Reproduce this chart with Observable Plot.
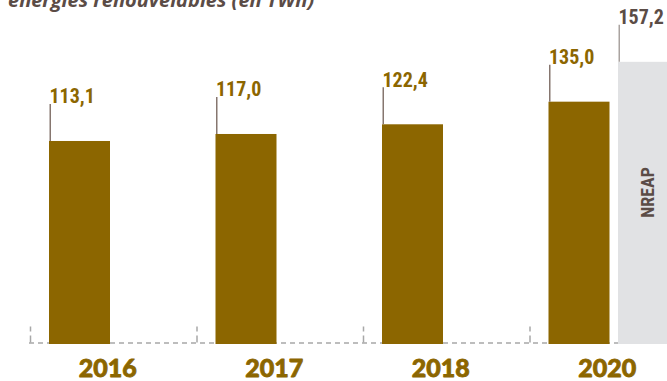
<!DOCTYPE html>
<html>
<head>
<meta charset="utf-8">
<script src="https://cdn.jsdelivr.net/npm/d3@7"></script>
<script src="https://cdn.jsdelivr.net/npm/@observablehq/plot@0.6"></script>
<style>
  html, body { margin: 0; padding: 0; background: #fff; overflow: hidden; }
  #wrap { position: relative; width: 667px; height: 381px; }
  #title { position: absolute; left: 8px; top: -10px; font-family: "Open Sans", sans-serif; font-style: italic; font-weight: 700; font-size: 20px; line-height: 20px; color: #5b4c46; white-space: nowrap; }
  svg { display: block; }
</style>
</head>
<body>
<div id="wrap">
  <div id="title">énergies renouvelables (en TWh)</div>
  <div id="chart"></div>
</div>
<script>
// ---- data ----
const years = ["2016", "2017", "2018", "2020"];
const values = [113.1, 117.0, 122.4, 135.0];
const valueLabels = ["113,1", "117,0", "122,4", "135,0"];
const targetYear = "2020";
const targetValue = 157.2;
const targetLabel = "157,2";
const targetName = "NREAP";

// ---- layout / style constants ----
const W = 667, H = 381;
const BAND_START = 29, BAND_W = 166.5;
const BAR_INSET = 20, BAR_W = 61;
const TARGET_INSET = 89.5;
const BASE_Y = 344, PX = 1.795;   // px per TWh
const LEAD = 37;                  // leader length in px
const GOLD = "#8c6600", DARK = "#5b4c46";
const NUM_FONT = "'Liberation Sans Narrow', 'Roboto Condensed', Roboto, sans-serif";

const data = years.map((year, i) => ({year, value: values[i], label: valueLabels[i]}));
const target = [{year: targetYear, value: targetValue, label: targetLabel, name: targetName}];

const half = BAND_W / 2;

const chart = Plot.plot({
  width: W,
  height: H,
  marginLeft: BAND_START,
  marginRight: 0,
  marginTop: 0,
  marginBottom: 0,
  style: {background: "transparent"},
  x: {domain: years, range: [BAND_START, BAND_START + years.length * BAND_W], padding: 0, align: 0, round: false, axis: null},
  y: {domain: [0, 160], range: [BASE_Y, BASE_Y - 160 * PX], axis: null},
  marks: [
    // dashed baseline
    Plot.ruleY([0], {stroke: "#a8a8a8", strokeWidth: 1.5, strokeDasharray: "5,4", dy: -1.5}),
    // dashed column separators
    Plot.ruleX(years, {x: d => d, dx: -half + 1, y1: 0, y2: 16 / PX, dy: -1.5, stroke: "#a8a8a8", strokeWidth: 1.5, strokeDasharray: "7,4"}),
    // target bar (NREAP)
    Plot.barY(target, {x: "year", y: "value", fill: "#e1e2e4", insetLeft: TARGET_INSET, insetRight: 0, clip: "frame"}),
    // actual bars
    Plot.barY(data, {x: "year", y: "value", fill: GOLD, insetLeft: BAR_INSET, insetRight: BAND_W - BAR_INSET - BAR_W}),
    // leaders
    Plot.ruleX(data, {x: "year", dx: -half + BAR_INSET + 0.75, y1: "value", y2: d => d.value + LEAD / PX, stroke: "#86766f", strokeWidth: 1.5}),
    Plot.ruleX(target, {x: "year", dx: -half + TARGET_INSET + 0.75, y1: "value", y2: d => d.value + LEAD / PX, stroke: "#aaa3a0", strokeWidth: 1.5}),
    // value labels
    Plot.text(data, {x: "year", y: "value", text: "label", dx: -half + BAR_INSET, dy: -LEAD - 1, textAnchor: "start", lineAnchor: "bottom", fill: GOLD, fontSize: 20, fontWeight: "bold", fontFamily: NUM_FONT}),
    Plot.text(target, {x: "year", y: "value", text: "label", dx: -half + TARGET_INSET, dy: -LEAD - 1, textAnchor: "start", lineAnchor: "bottom", fill: DARK, fontSize: 20, fontWeight: "bold", fontFamily: NUM_FONT}),
    // NREAP vertical label
    Plot.text(target, {x: "year", y: d => d.value / 2, text: "name", dx: -half + TARGET_INSET + 30, dy: -11, rotate: -90, fill: DARK, fontSize: 18, fontWeight: "bold", fontFamily: NUM_FONT, letterSpacing: 1}),
    // year labels
    Plot.text(years, {x: d => d, y: () => 0, text: d => d, dx: -5, dy: 32, lineAnchor: "bottom", fill: GOLD, fontSize: 25, fontWeight: 900, fontFamily: "'Lato Black', Lato, 'Open Sans', sans-serif", stroke: GOLD, strokeWidth: 0.8})
  ]
});
document.getElementById("chart").appendChild(chart);
</script>
</body>
</html>
